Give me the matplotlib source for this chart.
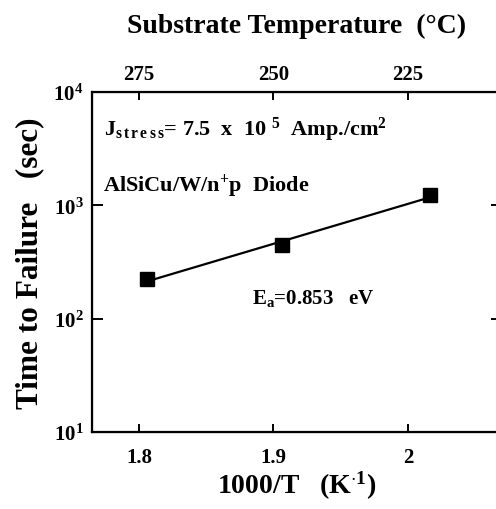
import numpy as np
import matplotlib
matplotlib.use("Agg")
import matplotlib.pyplot as plt
from matplotlib.ticker import FixedLocator, FixedFormatter, NullLocator

plt.rcParams['font.family'] = ['Liberation Serif', 'DejaVu Serif']
plt.rcParams['font.weight'] = 'bold'
plt.rcParams['mathtext.fontset'] = 'custom'
plt.rcParams['mathtext.rm'] = 'Liberation Serif:bold'
plt.rcParams['mathtext.bf'] = 'Liberation Serif:bold'
plt.rcParams['mathtext.it'] = 'Liberation Serif:bold'

# data
inv_temp = [1.806, 1.9067, 2.0164]        # 1000/T (1/K)
ttf_sec = [223, 444, 1225]                # time to failure (s)

bottom_ticks = [1.8, 1.9, 2.0]
bottom_labels = ["1.8", "1.9", "2"]
top_ticks = [1.8, 1.9, 2.0]
top_labels = ["275", "250", "225"]
y_ticks = [10, 100, 1000, 10000]
y_labels = [r"$\mathbf{10^{1}}$", r"$\mathbf{10^{2}}$", r"$\mathbf{10^{3}}$", r"$\mathbf{10^{4}}$"]

fig = plt.figure(figsize=(4.96, 5.10), dpi=100)
ax = fig.add_axes([92/496, 1 - 433/510, 410/496, 340/510])

# least squares line in log space
coef = np.polyfit(inv_temp, np.log10(ttf_sec), 1)
xfit = np.array([inv_temp[0], inv_temp[-1]])
ax.plot(xfit, 10**np.polyval(coef, xfit), color='black', lw=1.6, zorder=2)
ax.plot(inv_temp, ttf_sec, ls='none', marker='s', ms=10.5, color='black', zorder=3)

ax.set_yscale('log')
ax.set_xlim(1.765, 2.07)
ax.set_ylim(10, 10000)

for s in ax.spines.values():
    s.set_linewidth(1.6)

ax.xaxis.set_major_locator(FixedLocator(bottom_ticks))
ax.xaxis.set_major_formatter(FixedFormatter(bottom_labels))
ax.xaxis.set_minor_locator(NullLocator())
ax.yaxis.set_major_locator(FixedLocator(y_ticks))
ax.yaxis.set_major_formatter(FixedFormatter(y_labels))
ax.yaxis.set_minor_locator(NullLocator())
ax.tick_params(axis='x', direction='in', length=6, width=1.4, pad=11, labelsize=15)
ax.tick_params(axis='y', direction='in', length=8, width=1.4, pad=6, labelsize=15,
               right=True)

ax2 = ax.twiny()
ax2.set_xlim(ax.get_xlim())
ax2.xaxis.set_major_locator(FixedLocator(top_ticks))
ax2.xaxis.set_major_formatter(FixedFormatter(top_labels))
ax2.tick_params(axis='x', direction='in', length=6, width=1.4, pad=6, labelsize=15)
ax2.set_xlabel("Substrate Temperature  (\u00b0C)", fontsize=20, fontweight='bold', labelpad=23)

ax.set_xlabel(r"1000/T   (K$^{\mathbf{\cdot 1}}$)", fontsize=20, fontweight='bold', labelpad=1)
ax.set_ylabel("Time to Failure   (sec)", fontsize=22.5, fontweight='bold', labelpad=7)

ax.text(1.774, 10**3.62,
        r"J$_{\mathbf{s\,t\,r\,e\,s\,s}}$= 7.5  x  10 $^{\mathbf{5}}$  Amp./cm$^{\mathbf{2}}$",
        fontsize=16, va='baseline', ha='left')
ax.text(1.773, 10**3.13, r"AlSiCu/W/n$^{\mathbf{+}}$p  Diode",
        fontsize=16, va='baseline', ha='left')
ax.text(1.884, 10**2.141, r"E$_{\mathbf{a}}$=0.853   eV",
        fontsize=15, va='baseline', ha='left')

fig.savefig("out.png", dpi=100)
